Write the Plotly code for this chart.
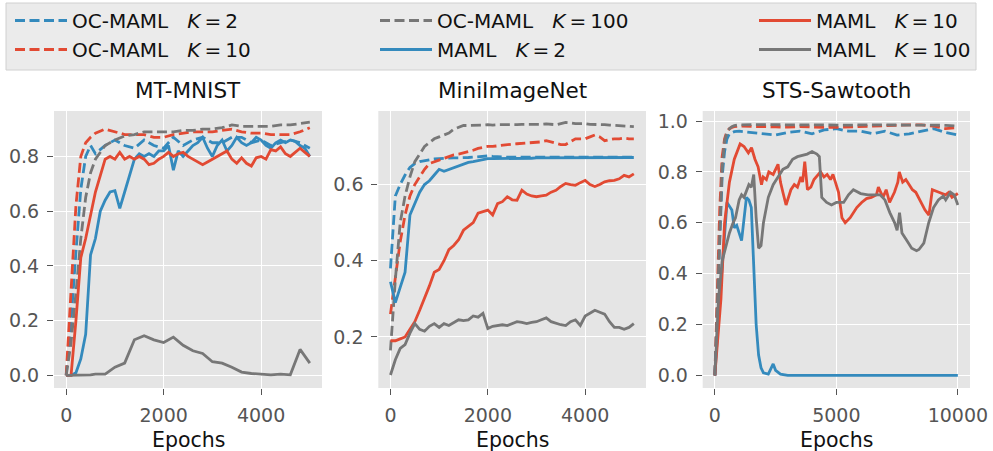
import plotly.graph_objects as go

# ---------------- data ----------------
# MT-MNIST
mn_x_fine = [0, 100, 200, 300, 400, 500, 600, 700, 800, 900, 1000, 1100, 1200, 1300, 1400, 1500,
             1600, 1700, 1800, 1900, 2000, 2100, 2200, 2300, 2400, 2500, 2600, 2700, 2800, 2900,
             3000, 3100, 3200, 3300, 3400, 3500, 3600, 3700, 3800, 3900, 4000, 4100, 4200, 4300,
             4400, 4500, 4600, 4700, 4800, 4900, 5000]
mn_x_coarse = [0, 100, 200, 300, 400, 500, 600, 800, 1000, 1200, 1400, 1600, 1800, 2000, 2200,
               2400, 2600, 2800, 3000, 3200, 3400, 3600, 3800, 4000, 4200, 4400, 4600, 4800, 5000]
mn_oc_k2 = [0.0, 0.2, 0.45, 0.68, 0.80, 0.84, 0.81, 0.84, 0.86, 0.84, 0.83, 0.86, 0.84, 0.83,
            0.87, 0.84, 0.86, 0.87, 0.85, 0.85, 0.87, 0.87, 0.85, 0.86, 0.84, 0.85, 0.86, 0.85, 0.83]
mn_oc_k10 = [0.0, 0.3, 0.62, 0.80, 0.85, 0.87, 0.885, 0.90, 0.89, 0.88, 0.88, 0.88, 0.87, 0.87,
             0.88, 0.885, 0.89, 0.89, 0.89, 0.895, 0.90, 0.89, 0.885, 0.885, 0.88, 0.88, 0.88,
             0.89, 0.905]
mn_oc_k100 = [0.0, 0.12, 0.3, 0.5, 0.65, 0.74, 0.79, 0.84, 0.86, 0.875, 0.88, 0.89, 0.89, 0.89,
              0.89, 0.895, 0.895, 0.90, 0.90, 0.905, 0.915, 0.91, 0.91, 0.91, 0.91, 0.915, 0.915,
              0.92, 0.925]
mn_maml_k2 = [0.0, 0.0, 0.01, 0.06, 0.15, 0.44, 0.50, 0.60, 0.64, 0.67, 0.675, 0.61, 0.67, 0.73,
              0.79, 0.81, 0.80, 0.81, 0.80, 0.82, 0.82, 0.84, 0.75, 0.82, 0.80, 0.82, 0.84, 0.85,
              0.87, 0.83, 0.80, 0.84, 0.86, 0.82, 0.84, 0.87, 0.85, 0.84, 0.85, 0.87, 0.86, 0.84,
              0.83, 0.85, 0.86, 0.85, 0.86, 0.855, 0.84, 0.83, 0.80]
mn_maml_k10 = [0.0, 0.0, 0.2, 0.43, 0.50, 0.58, 0.67, 0.73, 0.79, 0.80, 0.79, 0.815, 0.79, 0.80,
               0.79, 0.80, 0.79, 0.77, 0.775, 0.79, 0.80, 0.815, 0.80, 0.81, 0.815, 0.80, 0.79,
               0.78, 0.77, 0.78, 0.79, 0.80, 0.81, 0.82, 0.79, 0.775, 0.795, 0.775, 0.765, 0.795,
               0.80, 0.79, 0.825, 0.82, 0.835, 0.81, 0.80, 0.815, 0.83, 0.815, 0.80]
mn_maml_k100 = [0.0, 0.0, 0.0, 0.0, 0.0, 0.002, 0.005, 0.005, 0.03, 0.045, 0.13, 0.145, 0.13,
                0.12, 0.14, 0.11, 0.09, 0.08, 0.05, 0.045, 0.03, 0.012, 0.007, 0.005, 0.002,
                0.005, 0.002, 0.095, 0.045]

# MiniImageNet
mi_x = [0, 100, 200, 300, 400, 500, 600, 700, 800, 900, 1000, 1100, 1200, 1300, 1400, 1500,
        1600, 1700, 1800, 1900, 2000, 2100, 2200, 2300, 2400, 2500, 2600, 2700, 2800, 2900,
        3000, 3100, 3200, 3300, 3400, 3500, 3600, 3700, 3800, 3900, 4000, 4100, 4200, 4300,
        4400, 4500, 4600, 4700, 4800, 4900, 5000]
mi_oc_k2 = [0.38, 0.57, 0.60, 0.625, 0.645, 0.655, 0.66, 0.663, 0.665, 0.667, 0.668, 0.668,
            0.669, 0.67, 0.67, 0.67, 0.671, 0.672, 0.673, 0.674, 0.675, 0.674, 0.673, 0.672,
            0.672, 0.672, 0.672, 0.672, 0.672, 0.672, 0.672, 0.672, 0.672, 0.672, 0.672, 0.672,
            0.672, 0.672, 0.672, 0.672, 0.672, 0.672, 0.672, 0.672, 0.672, 0.672, 0.672, 0.672,
            0.672, 0.672, 0.672]
mi_oc_k10 = [0.26, 0.35, 0.45, 0.52, 0.57, 0.60, 0.62, 0.64, 0.655, 0.66, 0.665, 0.67, 0.675,
             0.678, 0.68, 0.683, 0.685, 0.69, 0.695, 0.697, 0.70, 0.70, 0.702, 0.704, 0.705,
             0.706, 0.707, 0.708, 0.709, 0.71, 0.71, 0.712, 0.715, 0.712, 0.708, 0.705, 0.705,
             0.712, 0.72, 0.72, 0.72, 0.725, 0.73, 0.725, 0.715, 0.718, 0.72, 0.72, 0.722,
             0.72, 0.72]
mi_oc_k100 = [0.165, 0.35, 0.50, 0.57, 0.62, 0.66, 0.68, 0.70, 0.71, 0.72, 0.725, 0.73, 0.735,
              0.745, 0.75, 0.755, 0.755, 0.755, 0.756, 0.756, 0.757, 0.756, 0.757, 0.757, 0.757,
              0.756, 0.757, 0.758, 0.758, 0.757, 0.757, 0.758, 0.759, 0.758, 0.757, 0.76, 0.763,
              0.762, 0.76, 0.76, 0.76, 0.758, 0.758, 0.758, 0.757, 0.756, 0.755, 0.755, 0.754,
              0.753, 0.752]
mi_maml_k2 = [0.345, 0.29, 0.33, 0.37, 0.52, 0.55, 0.58, 0.60, 0.61, 0.625, 0.64, 0.635, 0.64,
              0.645, 0.65, 0.655, 0.658, 0.66, 0.663, 0.665, 0.668, 0.668, 0.668, 0.668, 0.668,
              0.668, 0.668, 0.669, 0.669, 0.669, 0.67, 0.67, 0.67, 0.67, 0.67, 0.67, 0.67,
              0.67, 0.67, 0.67, 0.67, 0.67, 0.67, 0.67, 0.67, 0.67, 0.67, 0.671, 0.671, 0.671,
              0.671]
mi_maml_k10 = [0.19, 0.19, 0.195, 0.20, 0.22, 0.24, 0.27, 0.30, 0.334, 0.37, 0.377, 0.40, 0.429,
               0.44, 0.455, 0.48, 0.49, 0.50, 0.525, 0.53, 0.533, 0.52, 0.55, 0.555, 0.568,
               0.56, 0.559, 0.585, 0.575, 0.57, 0.568, 0.57, 0.572, 0.58, 0.585, 0.595, 0.603,
               0.60, 0.598, 0.605, 0.611, 0.60, 0.595, 0.60, 0.607, 0.61, 0.611, 0.615, 0.624,
               0.62, 0.628]
mi_maml_k100 = [0.10, 0.14, 0.17, 0.18, 0.21, 0.235, 0.22, 0.215, 0.228, 0.235, 0.225, 0.235,
                0.23, 0.238, 0.245, 0.243, 0.245, 0.255, 0.252, 0.262, 0.222, 0.228, 0.23,
                0.232, 0.23, 0.235, 0.24, 0.238, 0.235, 0.238, 0.24, 0.245, 0.25, 0.24, 0.235,
                0.232, 0.23, 0.24, 0.245, 0.23, 0.255, 0.262, 0.27, 0.265, 0.26, 0.24, 0.225,
                0.225, 0.22, 0.225, 0.235]

# STS-Sawtooth
st_x_dash = [0, 100, 200, 300, 400, 500, 600, 700, 800, 1000, 1500, 2000, 2500, 3000, 3500,
             4000, 4500, 5000, 5500, 6000, 6500, 7000, 7500, 8000, 8500, 9000, 9500, 10000]
st_oc_k2 = [0.0, 0.25, 0.55, 0.78, 0.88, 0.93, 0.95, 0.955, 0.958, 0.96, 0.955, 0.95, 0.945,
            0.955, 0.96, 0.95, 0.965, 0.97, 0.96, 0.96, 0.95, 0.96, 0.945, 0.95, 0.96, 0.97,
            0.955, 0.945]
st_oc_k10 = [0.0, 0.35, 0.65, 0.86, 0.93, 0.96, 0.97, 0.975, 0.978, 0.98, 0.98, 0.978, 0.977,
             0.976, 0.978, 0.976, 0.975, 0.975, 0.977, 0.978, 0.98, 0.982, 0.984, 0.985, 0.985,
             0.98, 0.97, 0.975]
st_oc_k100 = [0.0, 0.3, 0.6, 0.82, 0.92, 0.955, 0.97, 0.978, 0.982, 0.985, 0.986, 0.985, 0.985,
              0.984, 0.985, 0.985, 0.984, 0.983, 0.984, 0.985, 0.985, 0.984, 0.985, 0.986,
              0.985, 0.984, 0.983, 0.98]
st_x_k2 = [0, 200, 400, 500, 700, 800, 900, 1100, 1300, 1400, 1500, 1600, 1700, 1800, 1900,
           2000, 2200, 2400, 2500, 2700, 3000, 4000, 5000, 6000, 7000, 8000, 9000, 10000]
st_maml_k2 = [0.0, 0.3, 0.55, 0.68, 0.65, 0.58, 0.59, 0.53, 0.70, 0.69, 0.66, 0.45, 0.20, 0.08,
              0.03, 0.01, 0.005, 0.045, 0.02, 0.005, 0.0, 0.0, 0.0, 0.0, 0.0, 0.0, 0.0, 0.0]
st_x_k10 = [0, 250, 400, 600, 800, 1040, 1200, 1380, 1510, 1650, 1780, 1920, 1990, 2120, 2220,
            2400, 2600, 2700, 2800, 2930, 3130, 3270, 3400, 3540, 3610, 3700, 3810, 3950, 4080,
            4350, 4490, 4620, 4760, 4860, 4960, 5090, 5230, 5365, 5570, 5840, 6040, 6240, 6440,
            6650, 6730, 6920, 7050, 7190, 7390, 7530, 7590, 7730, 7860, 8130, 8270, 8470, 8650,
            8810, 8950, 9220, 9490, 9630, 9760, 10000]
st_maml_k10 = [0.0, 0.3, 0.6, 0.76, 0.85, 0.91, 0.90, 0.875, 0.895, 0.85, 0.82, 0.75, 0.78, 0.77,
               0.80, 0.79, 0.83, 0.76, 0.72, 0.67, 0.73, 0.75, 0.74, 0.78, 0.76, 0.84, 0.73,
               0.74, 0.77, 0.80, 0.78, 0.79, 0.77, 0.79, 0.76, 0.72, 0.62, 0.60, 0.62, 0.66,
               0.68, 0.695, 0.70, 0.71, 0.74, 0.70, 0.73, 0.68, 0.72, 0.76, 0.80, 0.76, 0.77,
               0.73, 0.72, 0.68, 0.65, 0.63, 0.73, 0.72, 0.71, 0.72, 0.70, 0.715]
st_x_k100 = [0, 150, 300, 500, 600, 750, 850, 1000, 1100, 1200, 1400, 1500, 1600, 1700, 1800,
             1900, 2000, 2200, 2400, 2600, 2800, 3000, 3200, 3400, 3600, 3800, 4000, 4200, 4300,
             4400, 4600, 4800, 5000, 5300, 5500, 5700, 6000, 6300, 6600, 6800, 7000, 7200, 7400,
             7500, 7600, 7700, 7900, 8100, 8300, 8400, 8600, 8800, 9000, 9200, 9400, 9500, 9700,
             9850, 10000]
st_maml_k100 = [0.0, 0.3, 0.45, 0.53, 0.56, 0.60, 0.62, 0.69, 0.71, 0.70, 0.75, 0.74, 0.79,
                0.62, 0.50, 0.51, 0.60, 0.70, 0.75, 0.78, 0.81, 0.82, 0.85, 0.86, 0.865, 0.87,
                0.88, 0.87, 0.86, 0.70, 0.68, 0.67, 0.68, 0.68, 0.71, 0.73, 0.715, 0.71, 0.71,
                0.71, 0.69, 0.64, 0.60, 0.57, 0.64, 0.56, 0.53, 0.50, 0.49, 0.495, 0.52, 0.60,
                0.66, 0.69, 0.705, 0.69, 0.72, 0.71, 0.67]

panel_titles = ["MT-MNIST", "MiniImageNet", "STS-Sawtooth"]
x_label = "Epochs"

series_names = ["OC-MAML\u00a0\u00a0 <i>K</i>\u2009=\u20092",
                "OC-MAML\u00a0\u00a0 <i>K</i>\u2009=\u200910",
                "OC-MAML\u00a0\u00a0 <i>K</i>\u2009=\u2009100",
                "MAML\u00a0\u00a0 <i>K</i>\u2009=\u20092",
                "MAML\u00a0\u00a0 <i>K</i>\u2009=\u200910",
                "MAML\u00a0\u00a0 <i>K</i>\u2009=\u2009100"]

# ---------------- styling ----------------
BLUE = "#348ABD"
RED = "#E24A33"
GRAY = "#777777"
FONT = "DejaVu Sans"
LW = 2.8
DASH = "10px,4.5px"

styles = [
    dict(color=BLUE, dash=DASH),
    dict(color=RED, dash=DASH),
    dict(color=GRAY, dash=DASH),
    dict(color=BLUE, dash="solid"),
    dict(color=RED, dash="solid"),
    dict(color=GRAY, dash="solid"),
]
legend_of = ["legend", "legend", "legend2", "legend2", "legend3", "legend3"]

panels = [
    ([mn_x_coarse, mn_x_coarse, mn_x_coarse, mn_x_fine, mn_x_fine, mn_x_coarse],
     [mn_oc_k2, mn_oc_k10, mn_oc_k100, mn_maml_k2, mn_maml_k10, mn_maml_k100]),
    ([mi_x] * 6,
     [mi_oc_k2, mi_oc_k10, mi_oc_k100, mi_maml_k2, mi_maml_k10, mi_maml_k100]),
    ([st_x_dash, st_x_dash, st_x_dash, st_x_k2, st_x_k10, st_x_k100],
     [st_oc_k2, st_oc_k10, st_oc_k100, st_maml_k2, st_maml_k10, st_maml_k100]),
]

fig = go.Figure()
for p, (xs, ys) in enumerate(panels):
    ax = "" if p == 0 else str(p + 1)
    for i in range(6):
        fig.add_trace(go.Scatter(
            x=xs[i], y=ys[i], mode="lines", name=series_names[i],
            line=dict(color=styles[i]["color"], dash=styles[i]["dash"], width=LW),
            xaxis="x" + ax, yaxis="y" + ax,
            showlegend=(p == 0), legend=legend_of[i],
            hoverinfo="skip"))

W, H = 993, 451
domains_px = [(54, 322), (378.3, 646), (702.7, 970)]
y_top_px, y_bot_px = 111, 388
ydom = [1 - y_bot_px / H, 1 - y_top_px / H]

x_ranges = [[-250, 5250], [-250, 5250], [-500, 10500]]
y_ranges = [[-0.046, 0.966], [0.066, 0.793], [-0.0495, 1.0395]]
x_ticks = [[0, 2000, 4000], [0, 2000, 4000], [0, 5000, 10000]]
y_ticks = [[0.0, 0.2, 0.4, 0.6, 0.8], [0.2, 0.4, 0.6], [0.0, 0.2, 0.4, 0.6, 0.8, 1.0]]

layout = dict(
    width=W, height=H, margin=dict(l=0, r=0, t=0, b=0, autoexpand=False),
    paper_bgcolor="white", plot_bgcolor="#E5E5E5",
    font=dict(family=FONT, size=19, color="#555555"),
    showlegend=True,
)
axis_common = dict(showgrid=True, gridcolor="white", gridwidth=1.3, zeroline=False,
                   showline=False, ticks="outside", ticklen=6, tickwidth=1.2,
                   tickcolor="#555555", tickfont=dict(family=FONT, size=19, color="#555555"),
                   ticklabelstandoff=4, fixedrange=True, automargin=False)
annotations = []
for p in range(3):
    ax = "" if p == 0 else str(p + 1)
    d0, d1 = domains_px[p]
    layout["xaxis" + ax] = dict(axis_common, domain=[d0 / W, d1 / W], range=x_ranges[p],
                                tickvals=x_ticks[p], ticktext=[str(v) for v in x_ticks[p]],
                                anchor="y" + ax)
    layout["yaxis" + ax] = dict(axis_common, domain=ydom, range=y_ranges[p],
                                tickvals=y_ticks[p], ticktext=["%.1f" % v for v in y_ticks[p]],
                                anchor="x" + ax)
    xc = (d0 + d1) / 2 / W
    annotations.append(dict(text=panel_titles[p], x=xc, y=1 - 90 / H, xref="paper",
                            yref="paper", xanchor="center", yanchor="middle", showarrow=False,
                            font=dict(family=FONT, size=21.5, color="#111111")))
    annotations.append(dict(text=x_label, x=xc, y=1 - 440 / H, xref="paper", yref="paper",
                            xanchor="center", yanchor="middle", showarrow=False,
                            font=dict(family=FONT, size=20.5, color="#111111")))
layout["annotations"] = annotations

leg_common = dict(orientation="v", yanchor="top", xanchor="left", bgcolor="rgba(0,0,0,0)",
                  borderwidth=0, font=dict(family=FONT, size=20, color="#111111"),
                  itemwidth=52, y=1 - 1 / H)
layout["legend"] = dict(leg_common, x=10 / W)
layout["legend2"] = dict(leg_common, x=375 / W)
layout["legend3"] = dict(leg_common, x=754 / W)

layout["shapes"] = [dict(type="rect", xref="paper", yref="paper",
                         x0=6 / W, x1=976 / W, y0=1 - 70 / H, y1=1 - 3 / H,
                         fillcolor="#EBEBEB", line=dict(color="#D0D0D0", width=1),
                         layer="below")]

fig.update_layout(**layout)
fig.write_html("out.html")
